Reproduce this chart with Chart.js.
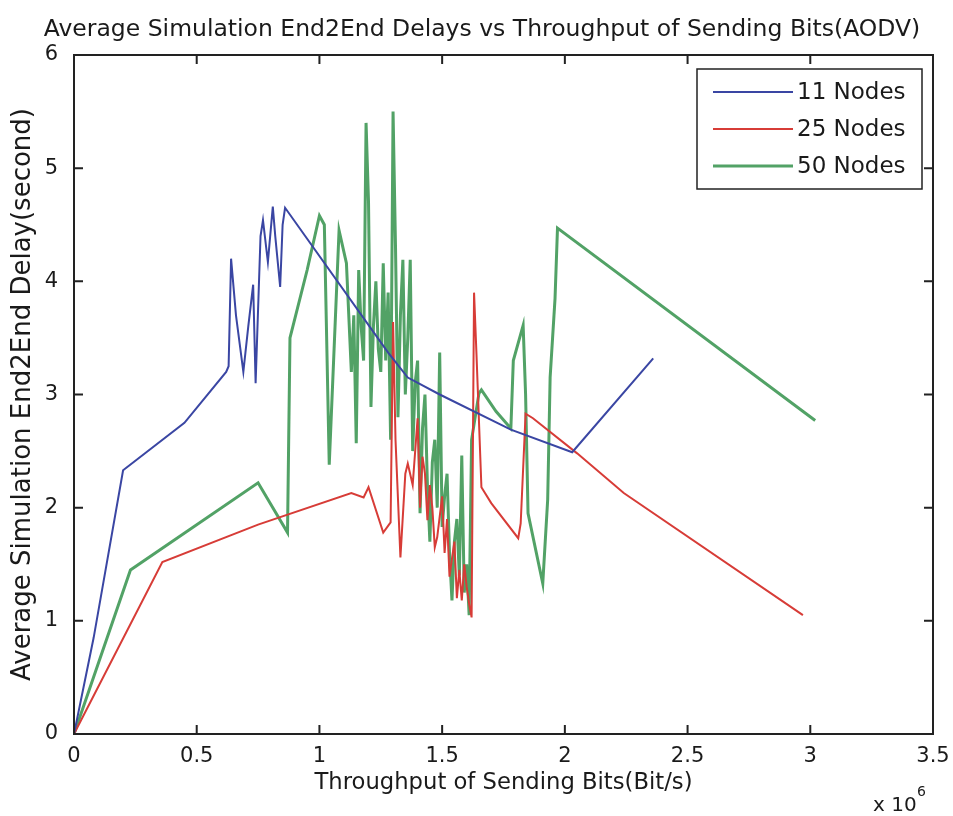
<!DOCTYPE html>
<html>
<head>
<meta charset="utf-8">
<script src="https://cdn.jsdelivr.net/npm/chart.js@4"></script>
<style>
  html, body { margin: 0; padding: 0; background: #fff; }
  #wrap { width: 953px; height: 816px; position: relative; }
</style>
</head>
<body>
<div id="wrap"><canvas id="delayChart"></canvas></div>
<script>
// throughput in units of 10^6 bit/s, delay in seconds
const nodes11X = [0, 0.08, 0.2, 0.45, 0.62, 0.63, 0.64, 0.66, 0.69, 0.71, 0.73, 0.74, 0.76, 0.77, 0.79, 0.81, 0.82, 0.84, 0.85, 0.86, 1.28, 1.36, 1.49, 1.78, 2.03, 2.36];
const nodes11Y = [0, 0.85, 2.33, 2.75, 3.2, 3.25, 4.2, 3.7, 3.2, 3.6, 3.97, 3.1, 4.4, 4.54, 4.17, 4.66, 4.4, 3.95, 4.5, 4.65, 3.37, 3.15, 3.0, 2.69, 2.49, 3.32];

const nodes25X = [0, 0.36, 0.75, 1.13, 1.18, 1.2, 1.26, 1.29, 1.3, 1.31, 1.33, 1.35, 1.36, 1.38, 1.4, 1.41, 1.42, 1.43, 1.44, 1.45, 1.46, 1.47, 1.48, 1.5, 1.51, 1.52, 1.53, 1.54, 1.55, 1.56, 1.57, 1.58, 1.59, 1.6, 1.61, 1.62, 1.63, 1.64, 1.66, 1.7, 1.81, 1.82, 1.84, 1.87, 2.05, 2.24, 2.97];
const nodes25Y = [0, 1.52, 1.85, 2.13, 2.09, 2.18, 1.78, 1.87, 3.64, 2.6, 1.56, 2.3, 2.39, 2.2, 2.79, 2.0, 2.45, 2.3, 1.89, 2.2, 2.0, 1.65, 1.74, 2.1, 1.6, 1.9, 1.39, 1.55, 1.7, 1.2, 1.45, 1.18, 1.5, 1.3, 1.15, 1.03, 3.9, 3.35, 2.18, 2.04, 1.73, 1.86, 2.83, 2.79, 2.48, 2.13, 1.05];

const nodes50X = [0, 0.23, 0.75, 0.87, 0.88, 0.95, 1.0, 1.02, 1.04, 1.08, 1.11, 1.13, 1.14, 1.15, 1.16, 1.17, 1.18, 1.19, 1.2, 1.21, 1.22, 1.23, 1.24, 1.25, 1.26, 1.27, 1.28, 1.29, 1.3, 1.31, 1.32, 1.33, 1.34, 1.35, 1.36, 1.37, 1.38, 1.39, 1.4, 1.41, 1.42, 1.43, 1.44, 1.45, 1.46, 1.47, 1.48, 1.49, 1.5, 1.51, 1.52, 1.53, 1.54, 1.55, 1.56, 1.57, 1.58, 1.59, 1.6, 1.61, 1.62, 1.65, 1.66, 1.72, 1.78, 1.79, 1.83, 1.84, 1.85, 1.91, 1.93, 1.94, 1.96, 1.97, 3.02];
const nodes50Y = [0, 1.45, 2.22, 1.78, 3.5, 4.1, 4.58, 4.5, 2.38, 4.45, 4.16, 3.2, 3.7, 2.57, 4.1, 3.6, 3.3, 5.4, 4.7, 2.89, 3.6, 4.0, 3.4, 3.2, 4.16, 3.3, 3.9, 2.6, 5.5, 4.3, 2.8, 3.7, 4.19, 3.0, 3.5, 4.19, 2.5, 3.1, 3.3, 1.95, 2.7, 3.0, 2.2, 1.7, 2.4, 2.6, 2.0, 3.37, 1.83, 2.1, 2.3, 1.6, 1.18, 1.7, 1.9, 1.4, 2.46, 1.25, 1.5, 1.05, 2.6, 3.01, 3.04, 2.85, 2.7, 3.3, 3.61, 3.0, 1.95, 1.33, 2.07, 3.15, 3.85, 4.47, 2.77];

const seriesNames = ['11 Nodes', '25 Nodes', '50 Nodes'];
const seriesColors = ['#3a46a3', '#d73c37', '#52a266'];
const seriesWidths = [2, 2, 3];
const xTicks = [0, 0.5, 1, 1.5, 2, 2.5, 3, 3.5];
const yTicks = [0, 1, 2, 3, 4, 5, 6];
const chartTitle = 'Average Simulation End2End Delays vs Throughput of Sending Bits(AODV)';

const FONT = 'DejaVu Sans';
const INK = '#1a1a1a';

function toPoints(xs, ys) {
  return xs.map((x, i) => ({x: x, y: ys[i]}));
}

const allX = [nodes11X, nodes25X, nodes50X];
const allY = [nodes11Y, nodes25Y, nodes50Y];

// MATLAB style box with inward ticks, title, exponent note and legend
const matlabBox = {
  id: 'matlabBox',
  afterDraw(chart) {
    const {ctx, chartArea: a, scales: {x, y}} = chart;
    ctx.save();
    ctx.strokeStyle = '#222';
    ctx.lineWidth = 2;
    ctx.strokeRect(a.left, a.top, a.right - a.left, a.bottom - a.top);
    ctx.beginPath();
    xTicks.forEach(v => {
      const px = x.getPixelForValue(v);
      ctx.moveTo(px, a.bottom); ctx.lineTo(px, a.bottom - 9);
      ctx.moveTo(px, a.top); ctx.lineTo(px, a.top + 9);
    });
    yTicks.forEach(v => {
      const py = y.getPixelForValue(v);
      ctx.moveTo(a.left, py); ctx.lineTo(a.left + 9, py);
      ctx.moveTo(a.right, py); ctx.lineTo(a.right - 9, py);
    });
    ctx.stroke();

    ctx.fillStyle = INK;
    ctx.textBaseline = 'middle';

    // title
    ctx.textAlign = 'center';
    ctx.font = '23.5px ' + FONT;
    ctx.fillText(chartTitle, 482, 30);

    // x 10^6
    ctx.textAlign = 'left';
    ctx.font = '20px ' + FONT;
    ctx.fillText('x 10', a.right - 60, 806);
    ctx.font = '14px ' + FONT;
    ctx.fillText('6', a.right - 16, 792);

    // legend
    const lw = 225, lh = 120;
    const lx = a.right - 11 - lw, ly = a.top + 14;
    ctx.fillStyle = '#fff';
    ctx.fillRect(lx, ly, lw, lh);
    ctx.lineWidth = 1.5;
    ctx.strokeStyle = '#222';
    ctx.strokeRect(lx, ly, lw, lh);
    ctx.font = '23px ' + FONT;
    chart.data.datasets.forEach((ds, i) => {
      const ry = ly + 23 + i * 37;
      ctx.strokeStyle = ds.borderColor;
      ctx.lineWidth = ds.borderWidth;
      ctx.beginPath();
      ctx.moveTo(lx + 16, ry); ctx.lineTo(lx + 96, ry);
      ctx.stroke();
      ctx.fillStyle = INK;
      ctx.fillText(ds.label, lx + 100, ry + 1);
    });
    ctx.restore();
  }
};

new Chart(document.getElementById('delayChart'), {
  type: 'scatter',
  data: {
    datasets: seriesNames.map((name, i) => ({
      label: name,
      data: toPoints(allX[i], allY[i]),
      showLine: true,
      borderColor: seriesColors[i],
      backgroundColor: seriesColors[i],
      borderWidth: seriesWidths[i],
      pointRadius: 0,
      tension: 0
    }))
  },
  options: {
    responsive: true,
    maintainAspectRatio: false,
    animation: false,
    layout: {padding: {left: 0, right: 20, top: 55, bottom: 0}},
    plugins: {
      legend: {display: false},
      tooltip: {enabled: false},
      title: {display: false}
    },
    scales: {
      x: {
        type: 'linear', min: 0, max: 3.5,
        afterFit: s => { s.height = 82; },
        afterBuildTicks: s => { s.ticks = xTicks.map(v => ({value: v})); },
        grid: {display: false},
        border: {display: false},
        ticks: {color: INK, font: {family: FONT, size: 21}, padding: 2, maxRotation: 0, callback: v => String(v)},
        title: {
          display: true, text: 'Throughput of Sending Bits(Bit/s)', color: INK,
          font: {family: FONT, size: 22.7}, padding: {top: 19, bottom: 19}
        }
      },
      y: {
        type: 'linear', min: 0, max: 6,
        afterFit: s => { s.width = 74; },
        afterBuildTicks: s => { s.ticks = yTicks.map(v => ({value: v})); },
        grid: {display: false},
        border: {display: false},
        ticks: {color: INK, font: {family: FONT, size: 21}, padding: 8, callback: v => String(v)},
        title: {
          display: true, text: 'Average Simulation End2End Delay(second)', color: INK,
          font: {family: FONT, size: 26}, padding: {top: 8, bottom: 8}
        }
      }
    }
  },
  plugins: [matlabBox]
});
</script>
</body>
</html>
